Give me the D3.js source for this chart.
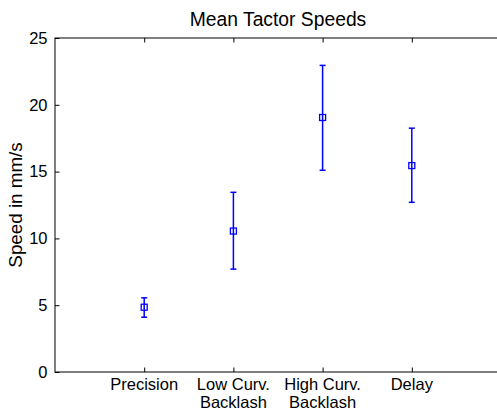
<!DOCTYPE html>
<html>
<head>
<meta charset="utf-8">
<script src="https://cdn.jsdelivr.net/npm/d3@7"></script>
<style>
  body { margin: 0; background: #fff; }
  svg { display: block; font-family: "Liberation Sans", Arial, sans-serif; }
</style>
</head>
<body>
<div id="chart"></div>
<script>
// Data
var categories = ['Precision', 'Low Curv.\nBacklash', 'High Curv.\nBacklash', 'Delay'];
var means = [4.85, 10.55, 19.05, 15.45];
var upper = [5.55, 13.45, 22.95, 18.25];
var lower = [4.1, 7.7, 15.1, 12.7];
var yTicks = [0, 5, 10, 15, 20, 25];

var width = 497, height = 413;
var margin = {top: 38, right: -4, bottom: 41, left: 55};
var w = width - margin.left - margin.right,
    h = height - margin.top - margin.bottom;

var svg = d3.select('#chart').append('svg')
    .attr('width', width)
    .attr('height', height);

var chart = svg.append('g')
    .attr('transform', 'translate(' + margin.left + ',' + margin.top + ')');

// Scales
var x = d3.scaleLinear().domain([0, categories.length + 1]).range([0, w]);
var y = d3.scaleLinear().domain([0, 25]).range([h, 0]);

var tickLen = 4.5;

// Box
chart.append('rect')
    .attr('x', 0).attr('y', 0)
    .attr('width', w).attr('height', h)
    .attr('fill', 'none')
    .attr('stroke', '#000')
    .attr('stroke-width', 1);

// Y axis (ticks inward)
var yAxis = d3.axisLeft(y).tickValues(yTicks).tickSize(-tickLen).tickPadding(tickLen + 3).tickSizeOuter(0);
var gy = chart.append('g').call(yAxis);
gy.select('.domain').remove();
gy.selectAll('text').style('font-size', '16.5px').attr('fill', '#000');

// Right side ticks (mostly cut off by the window edge)
var yAxisR = d3.axisRight(y).tickValues(yTicks).tickSize(-4).tickFormat('');
var gyr = chart.append('g').attr('transform', 'translate(' + w + ',0)').call(yAxisR);
gyr.select('.domain').remove();
gyr.selectAll('line').attr('stroke', '#bbb');

// X axis (ticks inward)
var xIdx = categories.map(function(d, i) { return i + 1; });
var xAxis = d3.axisBottom(x).tickValues(xIdx).tickSize(-tickLen).tickFormat('');
var gx = chart.append('g').attr('transform', 'translate(0,' + h + ')').call(xAxis);
gx.select('.domain').remove();

// Top ticks
var xAxisT = d3.axisTop(x).tickValues(xIdx).tickSize(-tickLen).tickFormat('');
var gxt = chart.append('g').call(xAxisT);
gxt.select('.domain').remove();

// X labels, two lines
categories.forEach(function(c, i) {
    var t = chart.append('text')
        .attr('x', x(i + 1))
        .attr('y', h + 18)
        .attr('text-anchor', 'middle')
        .style('font-size', '16.5px');
    c.split('\n').forEach(function(line, j) {
        t.append('tspan')
            .attr('x', x(i + 1))
            .attr('dy', j === 0 ? 0 : 18)
            .text(line);
    });
});

// Title
svg.append('text')
    .attr('x', margin.left + x(2.5))
    .attr('y', 26)
    .attr('text-anchor', 'middle')
    .style('font-size', '19.3px')
    .text('Mean Tactor Speeds');

// Y label
svg.append('text')
    .attr('transform', 'translate(22,205) rotate(-90)')
    .attr('text-anchor', 'middle')
    .style('font-size', '18.8px')
    .text('Speed in mm/s');

// Error bars
var blue = '#0000ff';
var capW = 3;
var bars = chart.append('g').selectAll('g')
    .data(means)
    .enter()
    .append('g');

bars.append('line')
    .attr('x1', function(d, i) { return x(i + 1); })
    .attr('x2', function(d, i) { return x(i + 1); })
    .attr('y1', function(d, i) { return y(upper[i]); })
    .attr('y2', function(d, i) { return y(lower[i]); })
    .attr('stroke', blue).attr('stroke-width', 1.5);

bars.append('line')
    .attr('x1', function(d, i) { return x(i + 1) - capW; })
    .attr('x2', function(d, i) { return x(i + 1) + capW; })
    .attr('y1', function(d, i) { return y(upper[i]); })
    .attr('y2', function(d, i) { return y(upper[i]); })
    .attr('stroke', blue).attr('stroke-width', 1.5);

bars.append('line')
    .attr('x1', function(d, i) { return x(i + 1) - capW; })
    .attr('x2', function(d, i) { return x(i + 1) + capW; })
    .attr('y1', function(d, i) { return y(lower[i]); })
    .attr('y2', function(d, i) { return y(lower[i]); })
    .attr('stroke', blue).attr('stroke-width', 1.5);

bars.append('rect')
    .attr('x', function(d, i) { return x(i + 1) - 3; })
    .attr('y', function(d) { return y(d) - 3; })
    .attr('width', 6).attr('height', 6)
    .attr('fill', 'none')
    .attr('stroke', blue).attr('stroke-width', 1.3);
</script>
</body>
</html>
